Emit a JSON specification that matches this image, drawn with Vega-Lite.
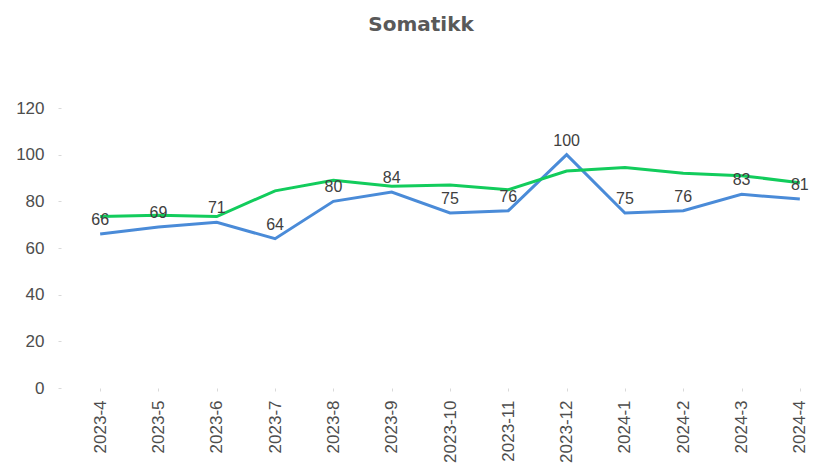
{
  "$schema": "https://vega.github.io/schema/vega-lite/v6.json",
  "width": 758,
  "height": 280,
  "autosize": {"type": "none"},
  "padding": {"left": 71, "top": 108, "right": 0, "bottom": 84},
  "background": "white",
  "title": {"text": "Somatikk", "font": "DejaVu Sans", "fontSize": 20, "fontWeight": "bold", "color": "#595959", "anchor": "middle", "dx": -29, "offset": 64},
  "config": {"view": {"stroke": null}},
  "data": {"values": [
    {"month": "2023-4", "series": "A", "value": 66},
    {"month": "2023-5", "series": "A", "value": 69},
    {"month": "2023-6", "series": "A", "value": 71},
    {"month": "2023-7", "series": "A", "value": 64},
    {"month": "2023-8", "series": "A", "value": 80},
    {"month": "2023-9", "series": "A", "value": 84},
    {"month": "2023-10", "series": "A", "value": 75},
    {"month": "2023-11", "series": "A", "value": 76},
    {"month": "2023-12", "series": "A", "value": 100},
    {"month": "2024-1", "series": "A", "value": 75},
    {"month": "2024-2", "series": "A", "value": 76},
    {"month": "2024-3", "series": "A", "value": 83},
    {"month": "2024-4", "series": "A", "value": 81},
    {"month": "2023-4", "series": "B", "value": 73.5},
    {"month": "2023-5", "series": "B", "value": 74},
    {"month": "2023-6", "series": "B", "value": 73.5},
    {"month": "2023-7", "series": "B", "value": 84.5},
    {"month": "2023-8", "series": "B", "value": 89},
    {"month": "2023-9", "series": "B", "value": 86.5},
    {"month": "2023-10", "series": "B", "value": 87},
    {"month": "2023-11", "series": "B", "value": 85},
    {"month": "2023-12", "series": "B", "value": 93},
    {"month": "2024-1", "series": "B", "value": 94.5},
    {"month": "2024-2", "series": "B", "value": 92},
    {"month": "2024-3", "series": "B", "value": 91},
    {"month": "2024-4", "series": "B", "value": 88}
  ]},
  "encoding": {
    "x": {"field": "month", "type": "ordinal", "sort": null,
      "scale": {"type": "point", "padding": 0.5},
      "axis": {"title": null, "domain": false, "labelAngle": -90, "labelAlign": "right", "labelBaseline": "middle",
        "labelFont": "Liberation Sans", "labelFontSize": 17, "labelColor": "#4d4d4d", "tickColor": "#d9d9d9", "tickSize": 3, "labelPadding": 9}},
    "y": {"field": "value", "type": "quantitative",
      "scale": {"domain": [0, 120], "nice": false, "zero": true},
      "axis": {"title": null, "domain": false, "grid": false, "values": [0, 20, 40, 60, 80, 100, 120], "offset": 10, "tickSize": 3, "tickColor": "#d9d9d9",
        "labelPadding": 14, "labelFont": "Liberation Sans", "labelFontSize": 17, "labelColor": "#4d4d4d"}}
  },
  "layer": [
    {"mark": {"type": "line", "strokeWidth": 3},
     "encoding": {"color": {"field": "series", "type": "nominal", "scale": {"domain": ["A", "B"], "range": ["#4a8bd8", "#12cc5c"]}, "legend": null},
       "order": {"field": "series", "sort": "descending"}}},
    {"transform": [{"filter": "datum.series === 'A'"}],
     "mark": {"type": "text", "dy": -14, "font": "Liberation Sans", "fontSize": 16, "color": "#404040"},
     "encoding": {"text": {"field": "value", "type": "quantitative"}}}
  ]
}
